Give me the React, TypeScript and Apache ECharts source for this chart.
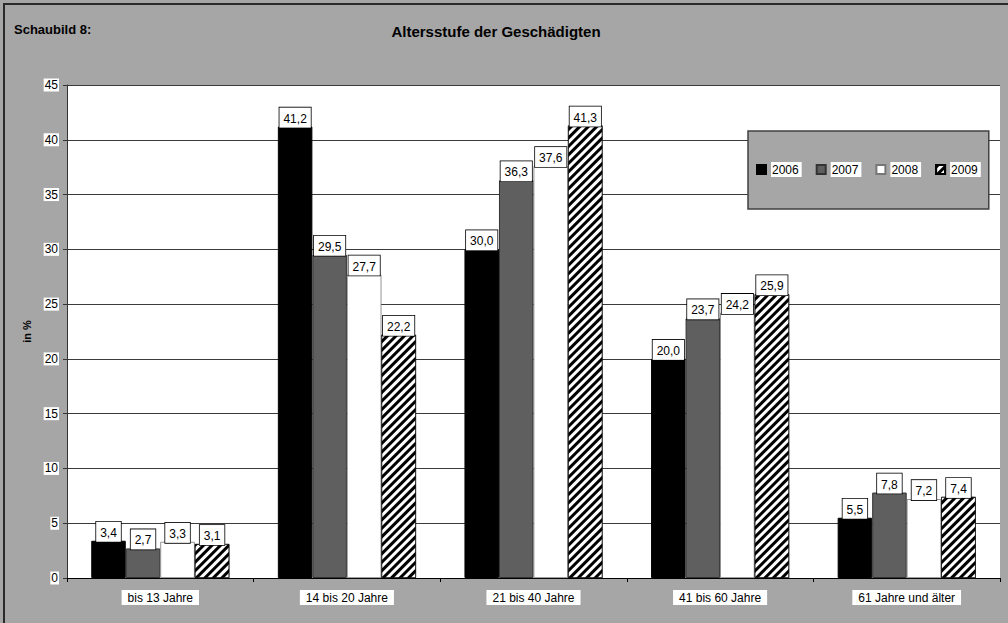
import React, { useEffect, useRef } from "react";
import * as echarts from "echarts";

const categories = ["bis 13 Jahre", "14 bis 20 Jahre", "21 bis 40 Jahre", "41 bis 60 Jahre", "61 Jahre und älter"];
const years = ["2006", "2007", "2008", "2009"];
const v2006 = [3.4, 41.2, 30.0, 20.0, 5.5];
const v2007 = [2.7, 29.5, 36.3, 23.7, 7.8];
const v2008 = [3.3, 27.7, 37.6, 24.2, 7.2];
const v2009 = [3.1, 22.2, 41.3, 25.9, 7.4];

const FONT = "'Liberation Sans', Arial, sans-serif";

export default function App() {
  const ref = useRef<HTMLDivElement>(null);
  useEffect(() => {
    document.body.style.margin = "0";
    const chart = echarts.init(ref.current!, null, { renderer: "svg" });
    const label = {
      show: true,
      position: "top",
      distance: -1,
      formatter: (p: any) => Number(p.value).toFixed(1).replace(".", ","),
      backgroundColor: "#fff",
      borderColor: "#000",
      borderWidth: 0.8,
      padding: [5, 4, 3, 4],
      color: "#000",
      fontFamily: FONT,
      fontSize: 12,
    };
    const hatch = {
      symbol: "rect",
      symbolSize: 1,
      dashArrayX: [[1, 0]],
      dashArrayY: [3, 3],
      rotation: -Math.PI / 4,
      color: "#000",
      backgroundColor: "#fff",
    };
    const styles = [
      { color: "#000", borderColor: "#000", borderWidth: 1 },
      { color: "#5f5f5f", borderColor: "#333", borderWidth: 1 },
      { color: "#fff", borderColor: "#777", borderWidth: 0.8 },
      { color: "#fff", borderColor: "#000", borderWidth: 0.6, decal: hatch },
    ];
    const data = [v2006, v2007, v2008, v2009];
    chart.setOption({
      animation: false,
      backgroundColor: "#a6a6a6",
      aria: { enabled: false, decal: { show: true } },
      graphic: [
        {
          type: "rect",
          shape: { x: 4, y: 4, width: 1020, height: 640 },
          style: { fill: "none", stroke: "#2a2a2a", lineWidth: 2 },
          silent: true,
        },
        {
          type: "text",
          x: 14,
          y: 23,
          style: { text: "Schaubild 8:", font: `bold 13px ${FONT}`, fill: "#000" },
        },
        {
          type: "text",
          x: 496,
          y: 24,
          style: { text: "Altersstufe der Geschädigten", font: `bold 15px ${FONT}`, fill: "#000", textAlign: "center" },
        },
      ],
      legend: {
        data: years,
        left: 748,
        top: 131,
        width: 230,
        padding: [31, 8, 32, 8],
        itemGap: 14,
        itemWidth: 9,
        itemHeight: 9,
        icon: "rect",
        backgroundColor: "#a6a6a6",
        borderColor: "#404040",
        borderWidth: 1.5,
        textStyle: {
          fontFamily: FONT,
          fontSize: 12,
          color: "#000",
          backgroundColor: "#fff",
          padding: [2, 3, 1, 1],
        },
      },
      grid: { left: 67, top: 85, right: 8, bottom: 45, containLabel: false, show: true, backgroundColor: "#fff", borderWidth: 0 },
      xAxis: {
        type: "category",
        data: categories,
        axisLine: { lineStyle: { color: "#000", width: 1 } },
        axisTick: { show: true, length: 4, lineStyle: { color: "#000" } },
        axisLabel: {
          margin: 12,
          fontFamily: FONT,
          fontSize: 12,
          color: "#000",
          backgroundColor: "#fff",
          padding: [2, 6, 1, 6],
        },
      },
      yAxis: {
        type: "value",
        min: 0,
        max: 45,
        interval: 5,
        name: "in %",
        nameLocation: "middle",
        nameGap: 34,
        nameRotate: 90,
        nameTextStyle: { fontFamily: FONT, fontSize: 11, fontWeight: "bold", color: "#000" },
        axisLine: { show: true, lineStyle: { color: "#333", width: 1 } },
        axisTick: { show: true, length: 4, lineStyle: { color: "#333" } },
        axisLabel: {
          margin: 8,
          fontFamily: FONT,
          fontSize: 12,
          color: "#000",
          backgroundColor: "#fff",
          padding: [1, 1, 0, 1],
        },
        splitLine: { show: true, lineStyle: { color: "#3a3a3a", width: 1 } },
      },
      series: years.map((y, i) => ({
        name: y,
        type: "bar",
        data: data[i],
        barGap: "0%",
        barCategoryGap: "26%",
        itemStyle: styles[i],
        label,
      })),
    });
    return () => chart.dispose();
  }, []);
  return <div ref={ref} style={{ width: 1008, height: 623 }} />;
}
